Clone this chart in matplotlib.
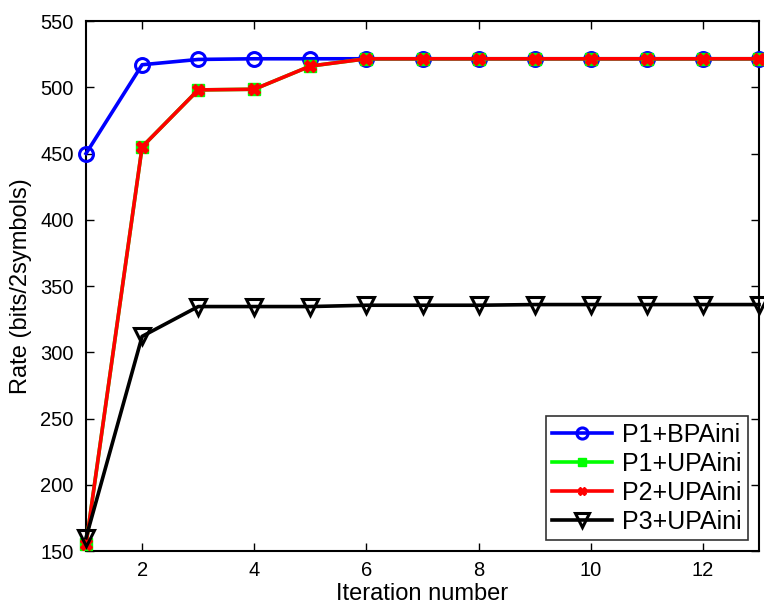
import numpy as np
import matplotlib
matplotlib.use('Agg')
import matplotlib.pyplot as plt

plt.rcParams['font.family'] = ['Liberation Sans', 'DejaVu Sans']

# data
iterations = list(range(1, 14))
p1_bpa = [450, 517, 521, 521.5, 521.5, 521.5, 521.5, 521.5, 521.5, 521.5, 521.5, 521.5, 521.5]
p1_upa = [155, 455, 498, 498.5, 516, 521.5, 521.5, 521.5, 521.5, 521.5, 521.5, 521.5, 521.5]
p2_upa = [155, 455, 498, 498.5, 516, 521.5, 521.5, 521.5, 521.5, 521.5, 521.5, 521.5, 521.5]
p3_upa = [160, 312, 334.5, 334.5, 334.5, 335.5, 335.5, 335.5, 336, 336, 336, 336, 336]
labels = ['P1+BPAini', 'P1+UPAini', 'P2+UPAini', 'P3+UPAini']

fig = plt.figure(figsize=(7.64, 6.09), dpi=100)
ax = fig.add_axes([0.1126, 0.0952, 0.8809, 0.8703])

lw = 2.6
ax.plot(iterations, p1_bpa, color='#0000ff', lw=lw, marker='o', ms=10,
        mfc='none', mew=2.2, label=labels[0], clip_on=False, zorder=3)
ax.plot(iterations, p1_upa, color='#00ff00', lw=lw, marker='s', ms=8,
        mfc='#00ff00', mec='#00ff00', label=labels[1], clip_on=False, zorder=4)
ax.plot(iterations, p2_upa, color='#ff0000', lw=lw, marker='X', ms=8,
        mfc='#ff0000', mec='#ff0000', label=labels[2], clip_on=False, zorder=5)
ax.plot(iterations, p3_upa, color='black', lw=lw, marker='v', ms=12,
        mfc='none', mew=2.2, label=labels[3], clip_on=False, zorder=6)

ax.set_xlim(1, 13)
ax.set_ylim(150, 550)
ax.set_xticks([2, 4, 6, 8, 10, 12])
ax.set_yticks(np.arange(150, 551, 50))
ax.tick_params(direction='in', top=True, right=True, labelsize=14.5, length=6, width=1)
ax.tick_params(axis='x', pad=7)
ax.tick_params(axis='y', pad=9)
for s in ax.spines.values():
    s.set_linewidth(1.5)

ax.set_xlabel('Iteration number', fontsize=17, labelpad=2)
ax.set_ylabel('Rate (bits/2symbols)', fontsize=17, labelpad=6)

leg = ax.legend(loc='lower right', fontsize=18, frameon=True, fancybox=False,
                edgecolor='black', handlelength=2.4, borderpad=0.25,
                labelspacing=0.2, handletextpad=0.4, borderaxespad=0.45,
                markerscale=0.8)
leg.get_frame().set_linewidth(1.2)

fig.savefig('out.png', dpi=100)
